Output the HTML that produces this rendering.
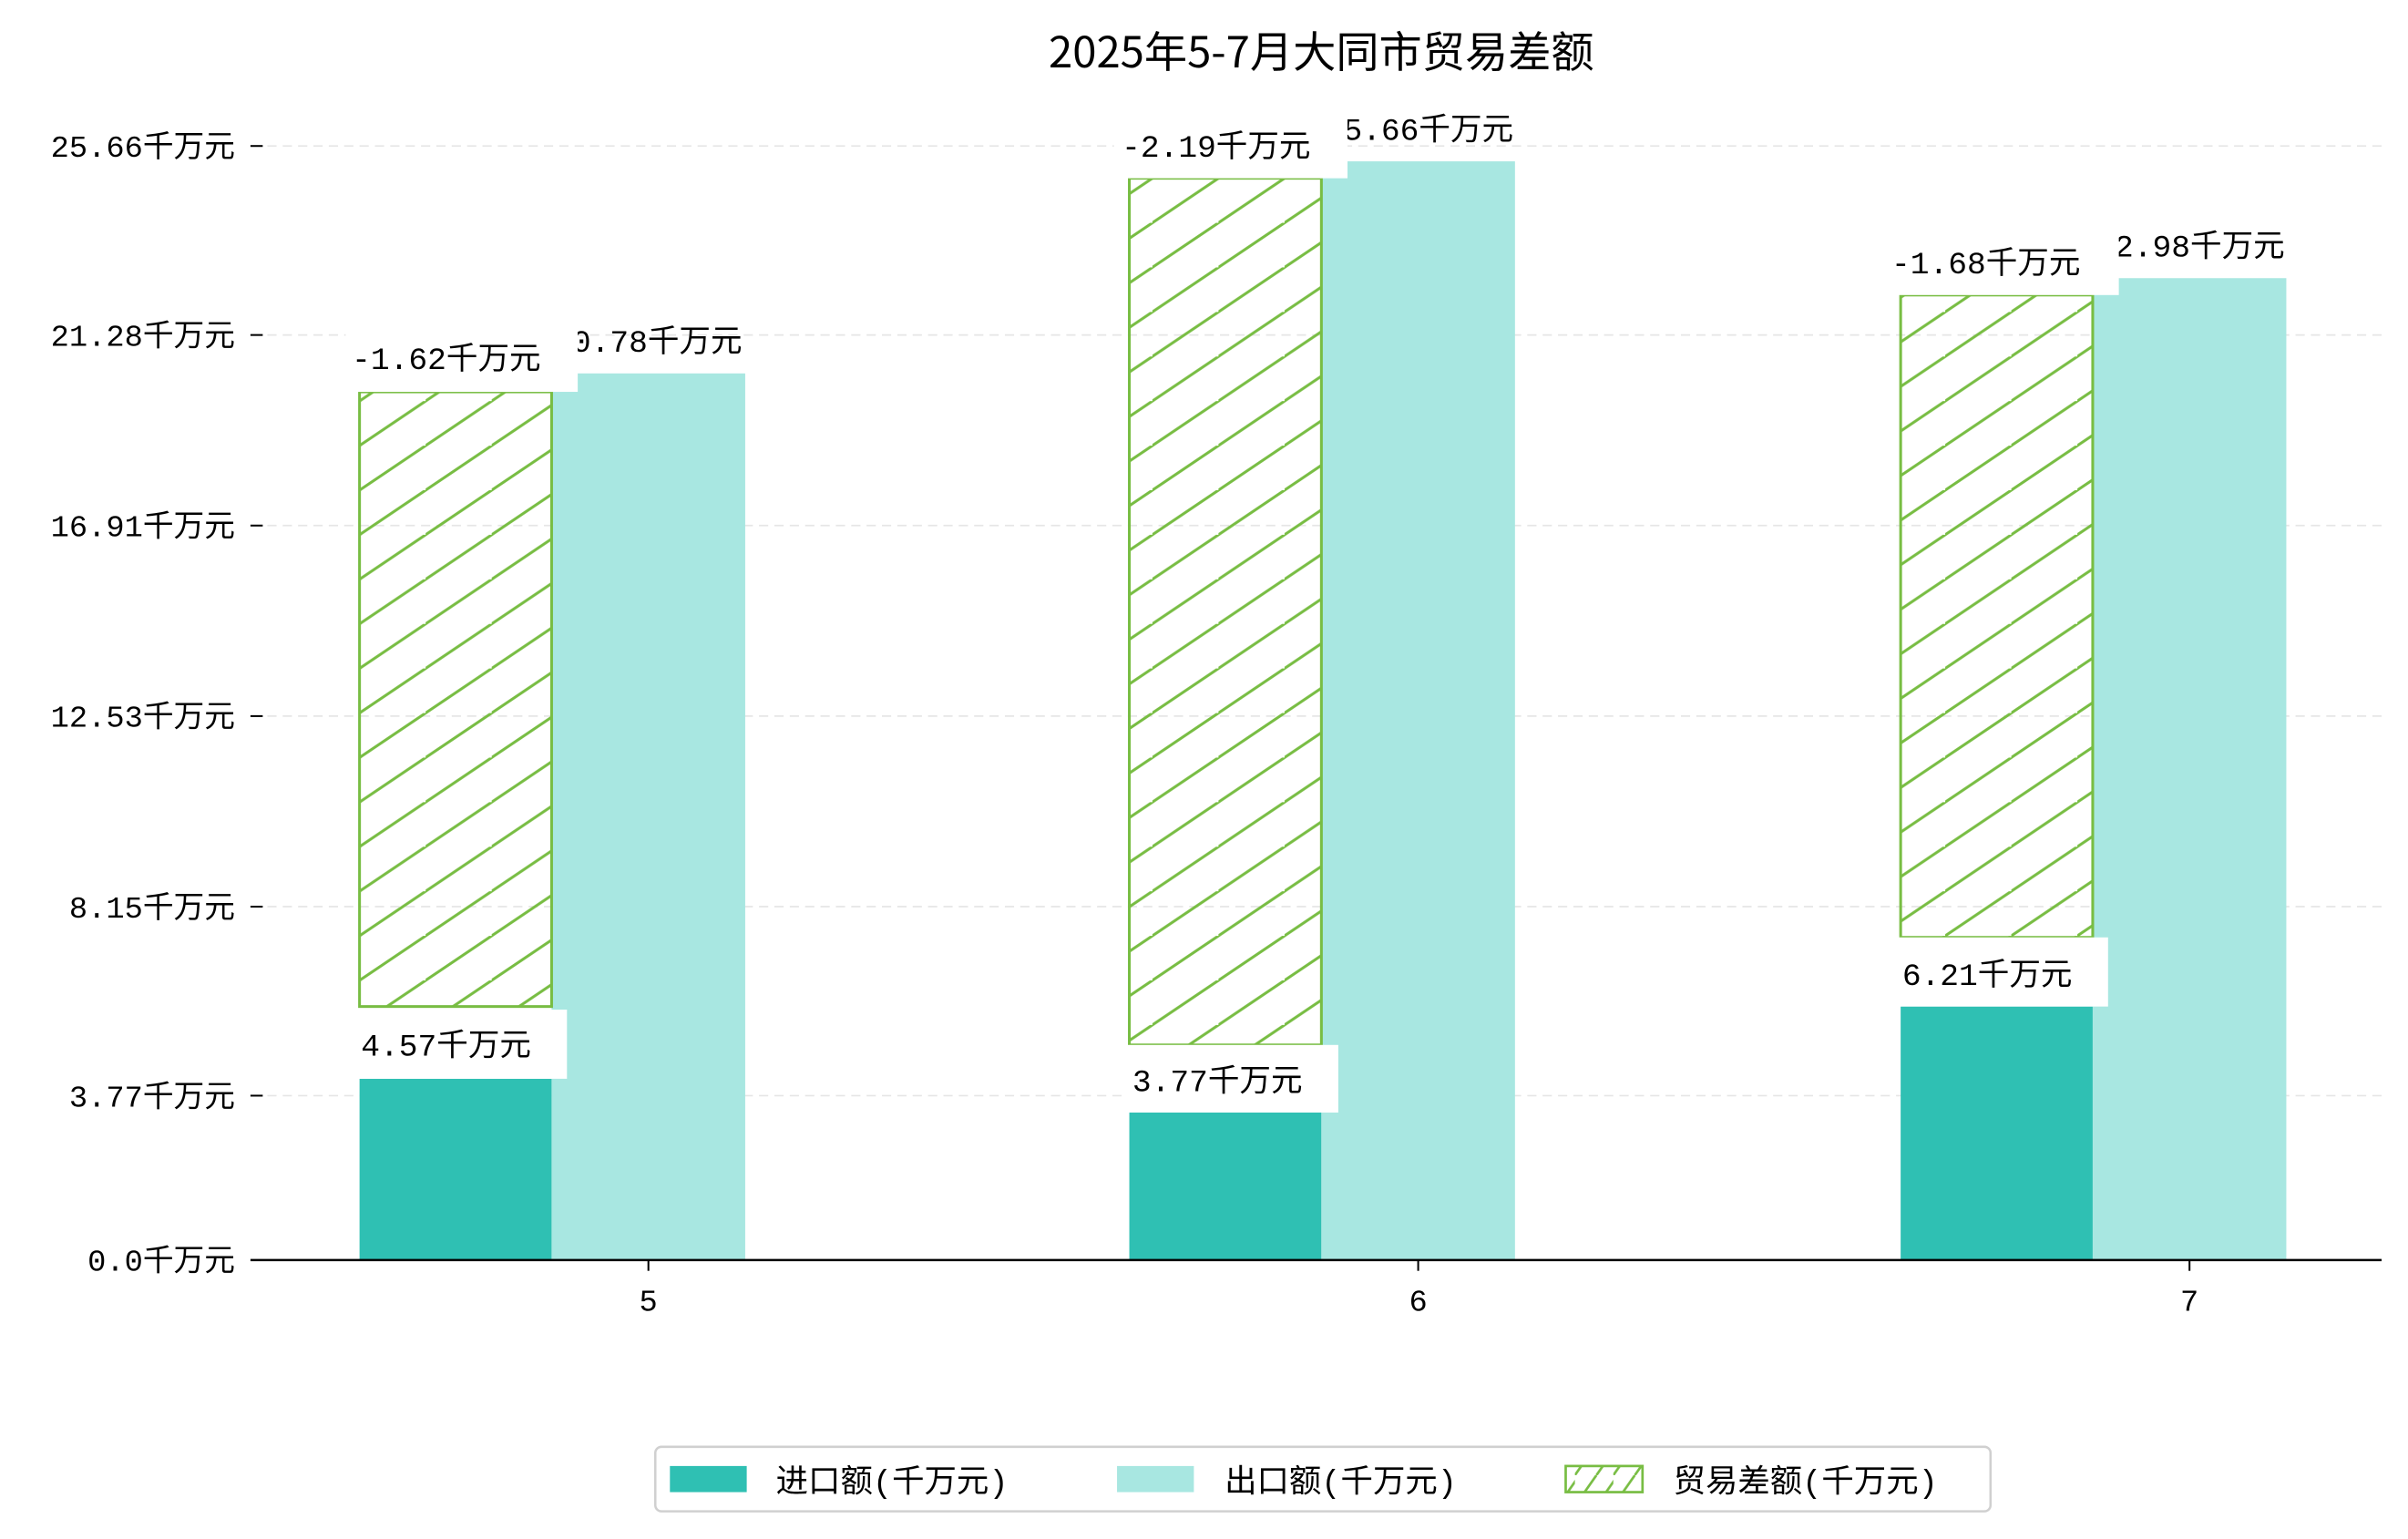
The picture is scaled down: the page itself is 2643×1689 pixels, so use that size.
<!DOCTYPE html>
<html><head><meta charset="utf-8"><style>
html,body{margin:0;padding:0;background:#fff;}
svg{display:block;}
text{font-family:"Liberation Mono","Noto Sans CJK SC",monospace;fill:#000;}
</style></head><body>
<svg width="2643" height="1689" viewBox="0 0 1567.2 1001.5" preserveAspectRatio="none" xmlns="http://www.w3.org/2000/svg">
<defs>
<pattern id="h" patternUnits="userSpaceOnUse" width="43" height="29" patternTransform="translate(234,0)">
<path d="M-43,29 L43,-29 M0,29 L43,0 M-43,58 L86,-29" stroke="#78bd43" stroke-width="1.8" fill="none"/>
</pattern>
<pattern id="hl" patternUnits="userSpaceOnUse" width="25" height="20">
<path d="M0,20 L14,0 M14,20 L28,0" stroke="#78bd43" stroke-width="1.6"/>
</pattern>
</defs>
<text x="860" y="44" font-size="28" text-anchor="middle" style="font-family:'Noto Sans CJK SC',sans-serif">2025年5-7月大同市贸易差额</text>
<g stroke="#e6e6e6" stroke-dasharray="6,4" stroke-width="1">
<line x1="164" y1="95" x2="1550" y2="95"/><line x1="164" y1="218" x2="1550" y2="218"/>
<line x1="164" y1="342" x2="1550" y2="342"/><line x1="164" y1="466" x2="1550" y2="466"/>
<line x1="164" y1="590" x2="1550" y2="590"/><line x1="164" y1="713" x2="1550" y2="713"/>
</g>
<g font-size="20" text-anchor="end">
<text x="153" y="102">25.66千万元</text><text x="153" y="225">21.28千万元</text>
<text x="153" y="349">16.91千万元</text><text x="153" y="473">12.53千万元</text>
<text x="153" y="597">8.15千万元</text><text x="153" y="720">3.77千万元</text>
<text x="153" y="827">0.0千万元</text>
</g>
<g stroke="#000" stroke-width="1.2">
<line x1="163" y1="95" x2="171" y2="95"/><line x1="163" y1="218" x2="171" y2="218"/>
<line x1="163" y1="342" x2="171" y2="342"/><line x1="163" y1="466" x2="171" y2="466"/>
<line x1="163" y1="590" x2="171" y2="590"/><line x1="163" y1="713" x2="171" y2="713"/>
<line x1="422" y1="820" x2="422" y2="827"/><line x1="923" y1="820" x2="923" y2="827"/><line x1="1425" y1="820" x2="1425" y2="827"/>
</g>
<rect x="234" y="702" width="125" height="118" fill="#2fc0b3"/>
<rect x="359" y="243" width="126" height="577" fill="#a8e7e1"/>
<rect x="234" y="255" width="125" height="400" fill="url(#h)" stroke="#78bd43" stroke-width="1.8"/>
<rect x="735" y="724" width="125" height="96" fill="#2fc0b3"/>
<rect x="860" y="105" width="126" height="715" fill="#a8e7e1"/>
<rect x="735" y="116" width="125" height="564" fill="url(#h)" stroke="#78bd43" stroke-width="1.8"/>
<rect x="1237" y="655" width="125" height="165" fill="#2fc0b3"/>
<rect x="1362" y="181" width="126" height="639" fill="#a8e7e1"/>
<rect x="1237" y="192" width="125" height="418" fill="url(#h)" stroke="#78bd43" stroke-width="1.8"/>
<line x1="163" y1="820" x2="1550" y2="820" stroke="#000" stroke-width="1.5"/>
<g font-size="20.5">
<text x="360" y="229">20.78千万元</text>
<rect x="225" y="215" width="151" height="40" fill="#fff"/>
<text x="229" y="240">-1.62千万元</text>
<rect x="229" y="657" width="140" height="45" fill="#fff"/>
<text x="235" y="687">4.57千万元</text>
<text x="862" y="91">25.66千万元</text>
<rect x="725" y="76" width="152" height="40" fill="#fff"/>
<text x="730" y="102">-2.19千万元</text>
<rect x="730" y="680" width="141" height="44" fill="#fff"/>
<text x="737" y="710">3.77千万元</text>
<text x="1364" y="167">22.98千万元</text>
<rect x="1227" y="152" width="152" height="40" fill="#fff"/>
<text x="1231" y="178">-1.68千万元</text>
<rect x="1231" y="610" width="141" height="45" fill="#fff"/>
<text x="1238" y="641">6.21千万元</text>
</g>
<g font-size="20" text-anchor="middle">
<text x="422" y="853">5</text><text x="923" y="853">6</text><text x="1425" y="853">7</text>
</g>
<rect x="426.5" y="941.5" width="869" height="42" rx="4" fill="#fff" stroke="#d0d0d0" stroke-width="1.5"/>
<rect x="436" y="954" width="50" height="17" fill="#2fc0b3"/>
<text x="505" y="971" font-size="21">进口额(千万元)</text>
<rect x="727" y="954" width="50" height="17" fill="#a8e7e1"/>
<text x="797" y="971" font-size="21">出口额(千万元)</text>
<rect x="1019" y="954" width="50" height="17" fill="url(#hl)" stroke="#78bd43" stroke-width="1.6"/>
<text x="1089" y="971" font-size="21">贸易差额(千万元)</text>
</svg>
</body></html>
